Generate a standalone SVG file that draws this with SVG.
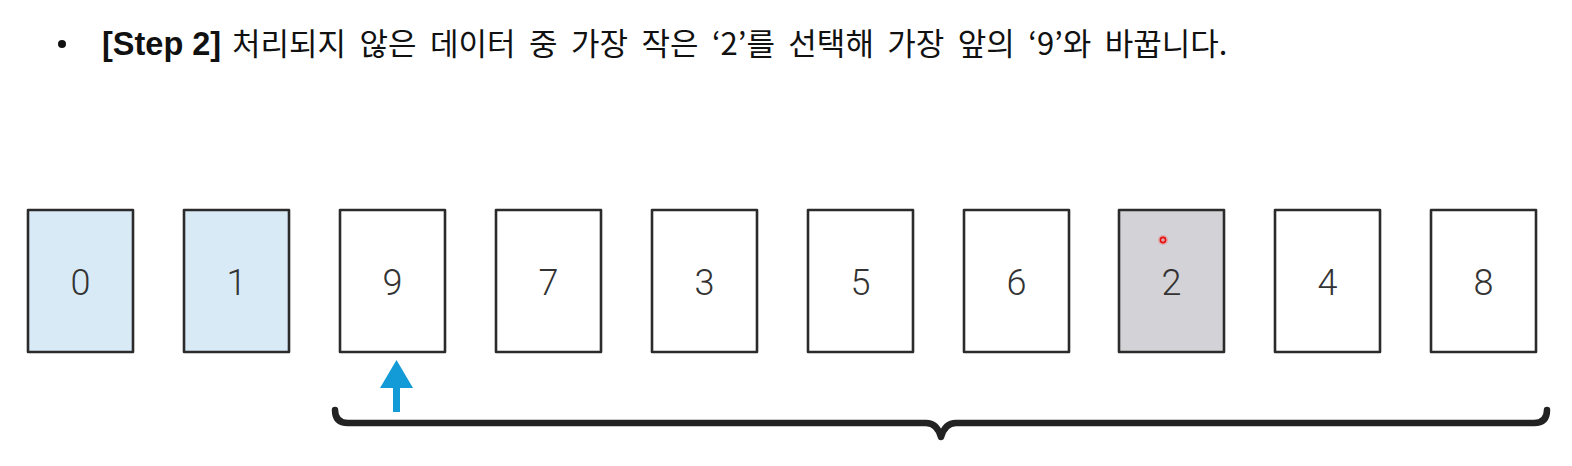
<svg xmlns="http://www.w3.org/2000/svg" width="1572" height="466" viewBox="0 0 1572 466">
<style>
.box{stroke:#2b2b2b;stroke-width:2.6;stroke-linejoin:round}
.w{fill:#ffffff}
.b{fill:#d9eaf7}
.g{fill:#d3d2d6}
.num{font-family:Roboto,"Liberation Sans",sans-serif;font-weight:300;font-size:36px;fill:#333;text-anchor:middle}
.lat{font-family:"Liberation Sans",sans-serif;font-weight:bold;font-size:32.5px;fill:#111}
.kr{font-family:"Noto Sans CJK KR","Liberation Sans",sans-serif;font-size:31px;fill:#111;word-spacing:6.5px}
</style>
<rect width="1572" height="466" fill="#fff"/>
<g id="title">
<circle cx="62" cy="44" r="4" fill="#111"/>
<text class="lat" x="102" y="55">[Step 2]</text>
<text class="kr" x="232" y="55">처리되지 않은 데이터 중 가장 작은 ‘2’를 선택해 가장 앞의 ‘9’와 바꿉니다.</text>
</g>
<g id="n0"><rect class="box b" x="28" y="210" width="105" height="142"/><text class="num" x="80.5" y="295">0</text></g>
<g id="n1"><rect class="box b" x="184" y="210" width="105" height="142"/><text class="num" x="236.5" y="295">1</text></g>
<g id="n2"><rect class="box w" x="340" y="210" width="105" height="142"/><text class="num" x="392.5" y="295">9</text></g>
<g id="n3"><rect class="box w" x="496" y="210" width="105" height="142"/><text class="num" x="548.5" y="295">7</text></g>
<g id="n4"><rect class="box w" x="652" y="210" width="105" height="142"/><text class="num" x="704.5" y="295">3</text></g>
<g id="n5"><rect class="box w" x="808" y="210" width="105" height="142"/><text class="num" x="860.5" y="295">5</text></g>
<g id="n6"><rect class="box w" x="964" y="210" width="105" height="142"/><text class="num" x="1016.5" y="295">6</text></g>
<g id="n7"><rect class="box g" x="1119" y="210" width="105" height="142"/><text class="num" x="1171.5" y="295">2</text>
<circle cx="1163" cy="240" r="5" fill="#ff3030" opacity="0.25"/><circle cx="1163" cy="240" r="2.6" fill="none" stroke="#e81010" stroke-width="1.6"/></g>
<g id="n8"><rect class="box w" x="1275" y="210" width="105" height="142"/><text class="num" x="1327.5" y="295">4</text></g>
<g id="n9"><rect class="box w" x="1431" y="210" width="105" height="142"/><text class="num" x="1483.5" y="295">8</text></g>
<g id="connectors">
<g id="pointer" fill="#129bd6">
<polygon points="396.5,360 380,388 413,388"/>
<rect x="393" y="386" width="7" height="26"/>
</g>
<path id="brace" d="M335,410 Q335,423 348,423 L926,423 Q937,423 941,437 Q945,423 956,423 L1534,423 Q1547,423 1547,410" fill="none" stroke="#222" stroke-width="6.5" stroke-linecap="round" stroke-linejoin="round"/>
</g>
</svg>
